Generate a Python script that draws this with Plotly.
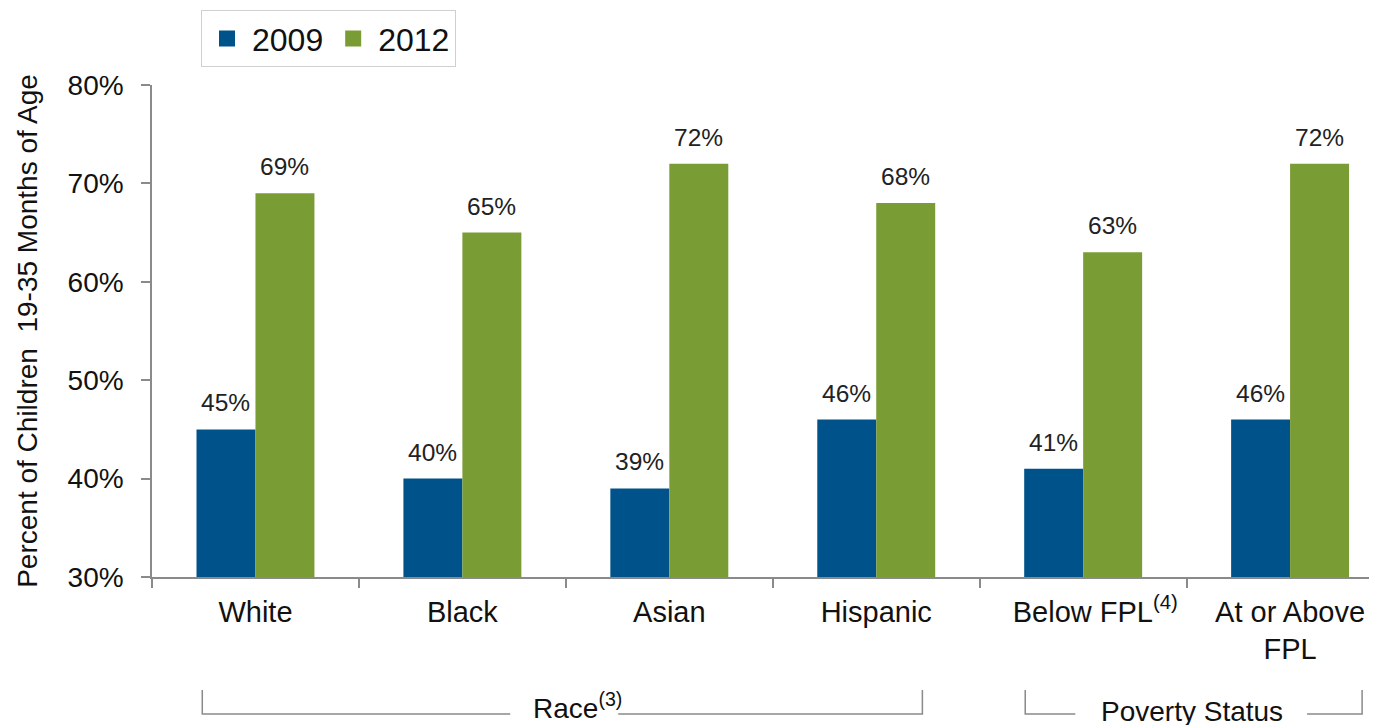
import plotly.graph_objects as go

categories = ["White", "Black", "Asian", "Hispanic", "Below FPL", "At or Above FPL"]
tick_labels = ["White", "Black", "Asian", "Hispanic", "\u00a0\u00a0\u00a0Below FPL<sup>(4)</sup>", "At or Above<br>FPL"]
values_2009 = [45, 40, 39, 46, 41, 46]
values_2012 = [69, 65, 72, 68, 63, 72]
series_names = ["2009", "2012"]
y_ticks = [30, 40, 50, 60, 70, 80]
group_labels = ["Race<sup>(3)</sup>", "Poverty Status"]

BLUE = "#00538A"
GREEN = "#7A9C35"
GREY = "#8A8A8A"
TXT = "#111111"
FONT = "Liberation Sans, Arial, sans-serif"

fig = go.Figure()
for name, vals, col in [(series_names[0], values_2009, BLUE), (series_names[1], values_2012, GREEN)]:
    fig.add_trace(go.Bar(x=categories, y=vals, name=name, marker=dict(color=col, line=dict(width=0)),
                         showlegend=False))
    fig.add_trace(go.Scatter(x=[None], y=[None], mode="markers", name=name,
                             marker=dict(symbol="square", size=17, color=col)))

BARW = 0.285
annotations = []
for i in range(len(categories)):
    for vals, off in [(values_2009, -BARW / 2), (values_2012, BARW / 2)]:
        annotations.append(dict(x=i + off, y=vals[i], xref="x", yref="y", text=f"{vals[i]}%",
                                showarrow=False, yanchor="bottom", yshift=11,
                                font=dict(size=24.5, color="#222222", family=FONT)))

# group brackets below the axis (paper y below the plot)
y_top, y_bot = -0.2297, -0.2785
line = dict(color=GREY, width=1.5)
# (outer left, gap start, gap end, outer right) in category units
brackets = [(-0.257, 1.231, 1.753, 3.223), (3.720, 3.962, 5.082, 5.348)]
label_pos = [(1.554, -0.262), (4.528, -0.274)]
shapes = []
for (x0, g0, g1, x1), label, (lx, ly) in zip(brackets, group_labels, label_pos):
    shapes.append(dict(type="path", xref="x", yref="paper",
                       path=f"M {x0},{y_top} L {x0},{y_bot} L {g0},{y_bot}", line=line))
    shapes.append(dict(type="path", xref="x", yref="paper",
                       path=f"M {g1},{y_bot} L {x1},{y_bot} L {x1},{y_top}", line=line))
    annotations.append(dict(x=lx, y=ly, xref="x", yref="paper", text=label, showarrow=False,
                            yanchor="middle", xanchor="center",
                            font=dict(size=28, color=TXT, family=FONT)))

fig.update_layout(
    width=1369, height=717,
    margin=dict(l=144, r=0, t=77, b=148),
    paper_bgcolor="white", plot_bgcolor="white",
    barmode="group", bargap=0.43, bargroupgap=0,
    font=dict(family=FONT, color=TXT),
    legend=dict(orientation="h", x=0.04, y=1.152, xanchor="left", yanchor="top",
                bordercolor="#D0D0D0", borderwidth=1, bgcolor="white",
                font=dict(size=32, family=FONT, color=TXT), itemwidth=40, tracegroupgap=0),
    annotations=annotations,
    shapes=shapes,
    xaxis=dict(type="category", range=[-0.5, 5.42], showline=True, linecolor=GREY, linewidth=1.5,
               tickvals=categories, ticktext=tick_labels,
               ticks="outside", tickson="boundaries", ticklen=9, tickcolor=GREY, tickwidth=1.5,
               tickfont=dict(size=29, family=FONT, color=TXT), ticklabelstandoff=8, showgrid=False),
    yaxis=dict(range=[30, 80], tickvals=y_ticks, ticktext=[f"{v}%" for v in y_ticks],
               showline=True, linecolor=GREY, linewidth=1.5, ticks="outside", ticklen=9,
               tickcolor=GREY, tickwidth=1.5, showgrid=False, zeroline=False,
               tickfont=dict(size=28, family=FONT, color=TXT), ticklabelstandoff=12,
               title=dict(text="Percent of Children  19-35 Months of Age",
                          font=dict(size=28, family=FONT, color=TXT), standoff=22)),
)

fig.write_html("out.html")
